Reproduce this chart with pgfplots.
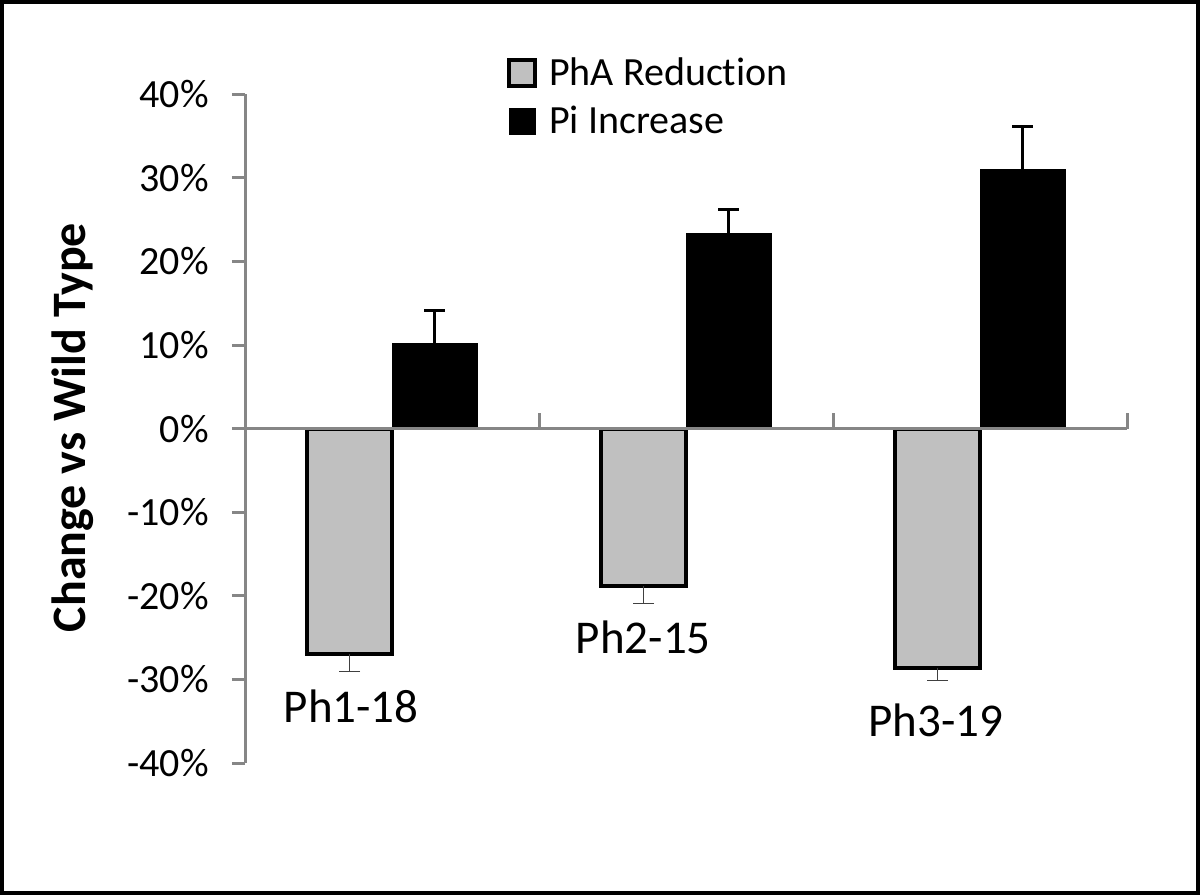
\documentclass[border=0pt]{standalone}
\usepackage{fontspec}
\setmainfont[Ligatures=NoCommon]{Carlito}
\usepackage{pgfplots}
\pgfplotsset{compat=1.18}
\definecolor{barGray}{HTML}{C0C0C0}
\definecolor{axGray}{HTML}{868686}
\definecolor{errGray}{HTML}{404040}
\begin{document}
\begin{tikzpicture}
\draw[line width=2pt] (1pt,1pt) rectangle (599pt,446.5pt);
\begin{axis}[
  at={(122.5pt,65.95pt)}, anchor=south west,
  scale only axis, width=441pt, height=334.4pt,
  xmin=-0.5, xmax=2.5, ymin=-40, ymax=40,
  clip=false,
  axis x line=none,
  axis y line=left,
  axis line style={-, axGray, line width=1.5pt},
  ytick={-40,-30,...,40},
  yticklabel={\pgfmathprintnumber{\tick}\%},
  /pgf/number format/assume math mode=true,
  tick align=outside,
  major tick length=6.5pt,
  tick style={axGray, line width=1.5pt},
  yticklabel style={font=\fontsize{20}{24}\selectfont, anchor=east, inner sep=0pt, xshift=-11.5pt},
  ybar=0pt, bar width=42.5pt,
  legend style={draw=none, fill=none, at={(rel axis cs:0.290,1.062)}, anchor=north west,
    font=\fontsize{20}{24}\selectfont, row sep=9pt, column sep=6pt,
    nodes={inner sep=0pt}},
  legend cell align=left,
  legend image code/.code={\draw[#1] (0pt,-6.5pt) rectangle (13pt,6.5pt);},
]
\addplot[fill=barGray, draw=black, line width=2pt,
  error bars/.cd, y dir=minus, y explicit,
  error bar style={line width=0.6pt, errGray},
  error mark options={rotate=90, mark size=5.25pt, line width=0.6pt, errGray}]
  coordinates {(0,-27.0) +- (0,2.0) (1,-18.8) +- (0,2.1) (2,-28.6) +- (0,1.5)};
\addlegendentry{PhA Reduction}
\addplot[fill=black, draw=black, line width=0.5pt,
  error bars/.cd, y dir=plus, y explicit,
  error bar style={line width=1.5pt, black},
  error mark options={rotate=90, mark size=5.25pt, line width=1.5pt, black}]
  coordinates {(0,10.2) +- (0,3.9) (1,23.4) +- (0,2.8) (2,31.0) +- (0,5.1)};
\addlegendentry{Pi Increase}
\draw[axGray, line width=1.5pt] (axis cs:-0.5,0) -- (axis cs:2.5,0);
\draw[axGray, line width=1.5pt] (axis cs:0.5,0) -- ([yshift=8pt]axis cs:0.5,0);
\draw[axGray, line width=1.5pt] (axis cs:1.5,0) -- ([yshift=8pt]axis cs:1.5,0);
\draw[axGray, line width=1.5pt] (axis cs:2.5,0) -- ([yshift=8pt]axis cs:2.5,0);
\node[font=\fontsize{23.5}{28}\selectfont, anchor=base] at (axis cs:-0.139,-35.2) {Ph1-18};
\node[font=\fontsize{23.5}{28}\selectfont, anchor=base] at (axis cs:0.855,-26.9) {Ph2-15};
\node[font=\fontsize{23.5}{28}\selectfont, anchor=base] at (axis cs:1.850,-36.8) {Ph3-19};
\end{axis}
\node[rotate=90, anchor=base, font=\bfseries\fontsize{24}{29}\selectfont] at (42.5pt,233.75pt) {Change vs Wild Type};
\end{tikzpicture}
\end{document}
